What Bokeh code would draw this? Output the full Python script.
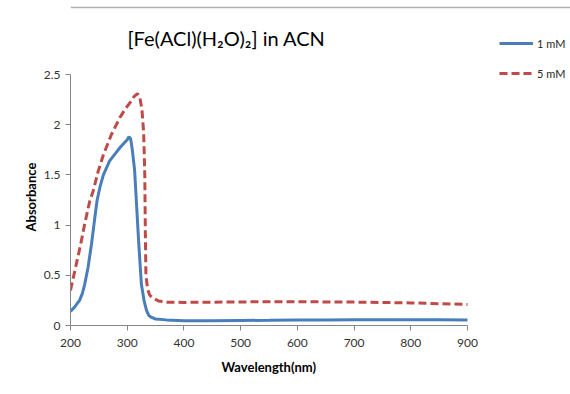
from bokeh.plotting import figure
from bokeh.models import Legend, LegendItem, FixedTicker, Range1d, Label, Span, Title
from bokeh.embed import file_html
from bokeh.resources import INLINE

# ---- data ----
wl_1mM = [200, 208, 216, 221, 225, 231, 237, 243, 247, 252, 258, 269, 280, 287, 295, 300,
          303, 306, 309, 313, 316, 320, 325, 330, 334, 338, 343, 350, 369, 400, 450, 500,
          550, 600, 650, 700, 750, 800, 850, 900]
abs_1mM = [0.14, 0.19, 0.25, 0.32, 0.41, 0.58, 0.81, 1.08, 1.25, 1.38, 1.50, 1.64, 1.72, 1.77,
           1.82, 1.85, 1.88, 1.86, 1.75, 1.55, 1.25, 0.85, 0.41, 0.24, 0.15, 0.10, 0.08, 0.065,
           0.056, 0.048, 0.047, 0.050, 0.052, 0.055, 0.056, 0.058, 0.058, 0.058, 0.057, 0.055]

wl_5mM = [200, 209, 218, 225, 234, 240, 249, 258, 272, 287, 297, 305, 312, 318, 322, 326,
          329, 331, 332, 333, 336, 340, 346, 355, 369, 400, 500, 600, 700, 800, 900]
abs_5mM = [0.35, 0.58, 0.81, 1.01, 1.24, 1.34, 1.54, 1.70, 1.90, 2.07, 2.16, 2.22, 2.28, 2.31,
           2.28, 2.15, 1.92, 1.50, 0.90, 0.50, 0.36, 0.30, 0.27, 0.245, 0.232, 0.230, 0.235,
           0.237, 0.233, 0.225, 0.210]

series_names = ["1 mM", "5 mM"]
x_ticks = [200, 300, 400, 500, 600, 700, 800, 900]
y_ticks = [0, 0.5, 1, 1.5, 2, 2.5]
y_tick_labels = ["0", "0.5", "1", "1.5", "2", "2.5"]
title_text = "[Fe(ACl)(H\u2082O)\u2082] in ACN"
x_label = "Wavelength(nm)"
y_label = "Absorbance"

FONT = "Lato"

# layout: axes span x 200..900 over 397 px and y 0..2.5 over 251 px;
# the frame is extended up and right so title and legend can live inside it
W, H = 570, 394
LEFT, BOTTOM = 70, 69
AX_W, AX_H = 397, 251
x0, x1 = x_ticks[0], x_ticks[-1]
y0, y1 = y_ticks[0], y_ticks[-1]
frame_w = W - LEFT
frame_h = H - BOTTOM
x_end = x0 + (x1 - x0) * frame_w / AX_W
y_end = y0 + (y1 - y0) * frame_h / AX_H

p = figure(width=W, height=H, output_backend="svg", toolbar_location=None,
           x_range=Range1d(x0, x_end), y_range=Range1d(y0, y_end),
           min_border_left=LEFT, min_border_right=0, min_border_top=0, min_border_bottom=BOTTOM)
p.outline_line_color = None
p.xgrid.visible = False
p.ygrid.visible = False
p.background_fill_color = "white"
p.border_fill_color = "white"

r1 = p.line(wl_1mM, abs_1mM, line_color="#4a7ebb", line_width=3)
r2 = p.line(wl_5mM, abs_5mM, line_color="#be4b48", line_width=3, line_dash="8 4")

for ax in (p.xaxis[0], p.yaxis[0]):
    ax.axis_line_color = "#868686"
    ax.major_tick_line_color = "#868686"
    ax.minor_tick_line_color = None
    ax.major_tick_in = 0
    ax.major_tick_out = 5
    ax.major_label_text_font = FONT
    ax.major_label_text_font_size = "12px"
    ax.major_label_text_color = "#333333"

p.xaxis.bounds = (x0, x1)
p.yaxis.bounds = (y0, y1)
p.xaxis.ticker = FixedTicker(ticks=x_ticks)
p.yaxis.ticker = FixedTicker(ticks=y_ticks)
p.yaxis.major_label_overrides = {t: l for t, l in zip(y_ticks, y_tick_labels)}
p.xaxis.major_label_standoff = 8
p.yaxis.major_label_standoff = 5

# axis titles, positioned against the axes' own extent (not the extended frame)
p.add_layout(Title(text=x_label, align="left", offset=151, standoff=15,
                   text_font=FONT, text_font_size="13px", text_font_style="bold",
                   text_color="#000000"), "below")
p.add_layout(Title(text=y_label, align="left", offset=94, standoff=4,
                   text_font=FONT, text_font_size="13px", text_font_style="bold",
                   text_color="#000000"), "left")

# chart title (screen units relative to the frame's bottom-left)
p.add_layout(Label(x=156, y=frame_h - 37, x_units="screen", y_units="screen", text=title_text,
                   text_font=FONT, text_font_size="20px", text_align="center",
                   text_baseline="middle", text_color="#000000"))

# faint top rule of the picture frame
p.add_layout(Span(location=frame_h - 7, location_units="screen", dimension="width",
                  line_color="#b0b0b0", line_width=1.5))

legend = Legend(items=[LegendItem(label=series_names[0], renderers=[r1]),
                       LegendItem(label=series_names[1], renderers=[r2])],
                location=(429, frame_h - 83), glyph_width=34, glyph_height=20, label_height=20,
                label_standoff=4, spacing=10, padding=0, margin=0,
                border_line_alpha=0, background_fill_alpha=0,
                label_text_font=FONT, label_text_font_size="11px", label_text_color="#262626")
p.add_layout(legend)

open("out.html", "w").write(file_html(p, INLINE))
